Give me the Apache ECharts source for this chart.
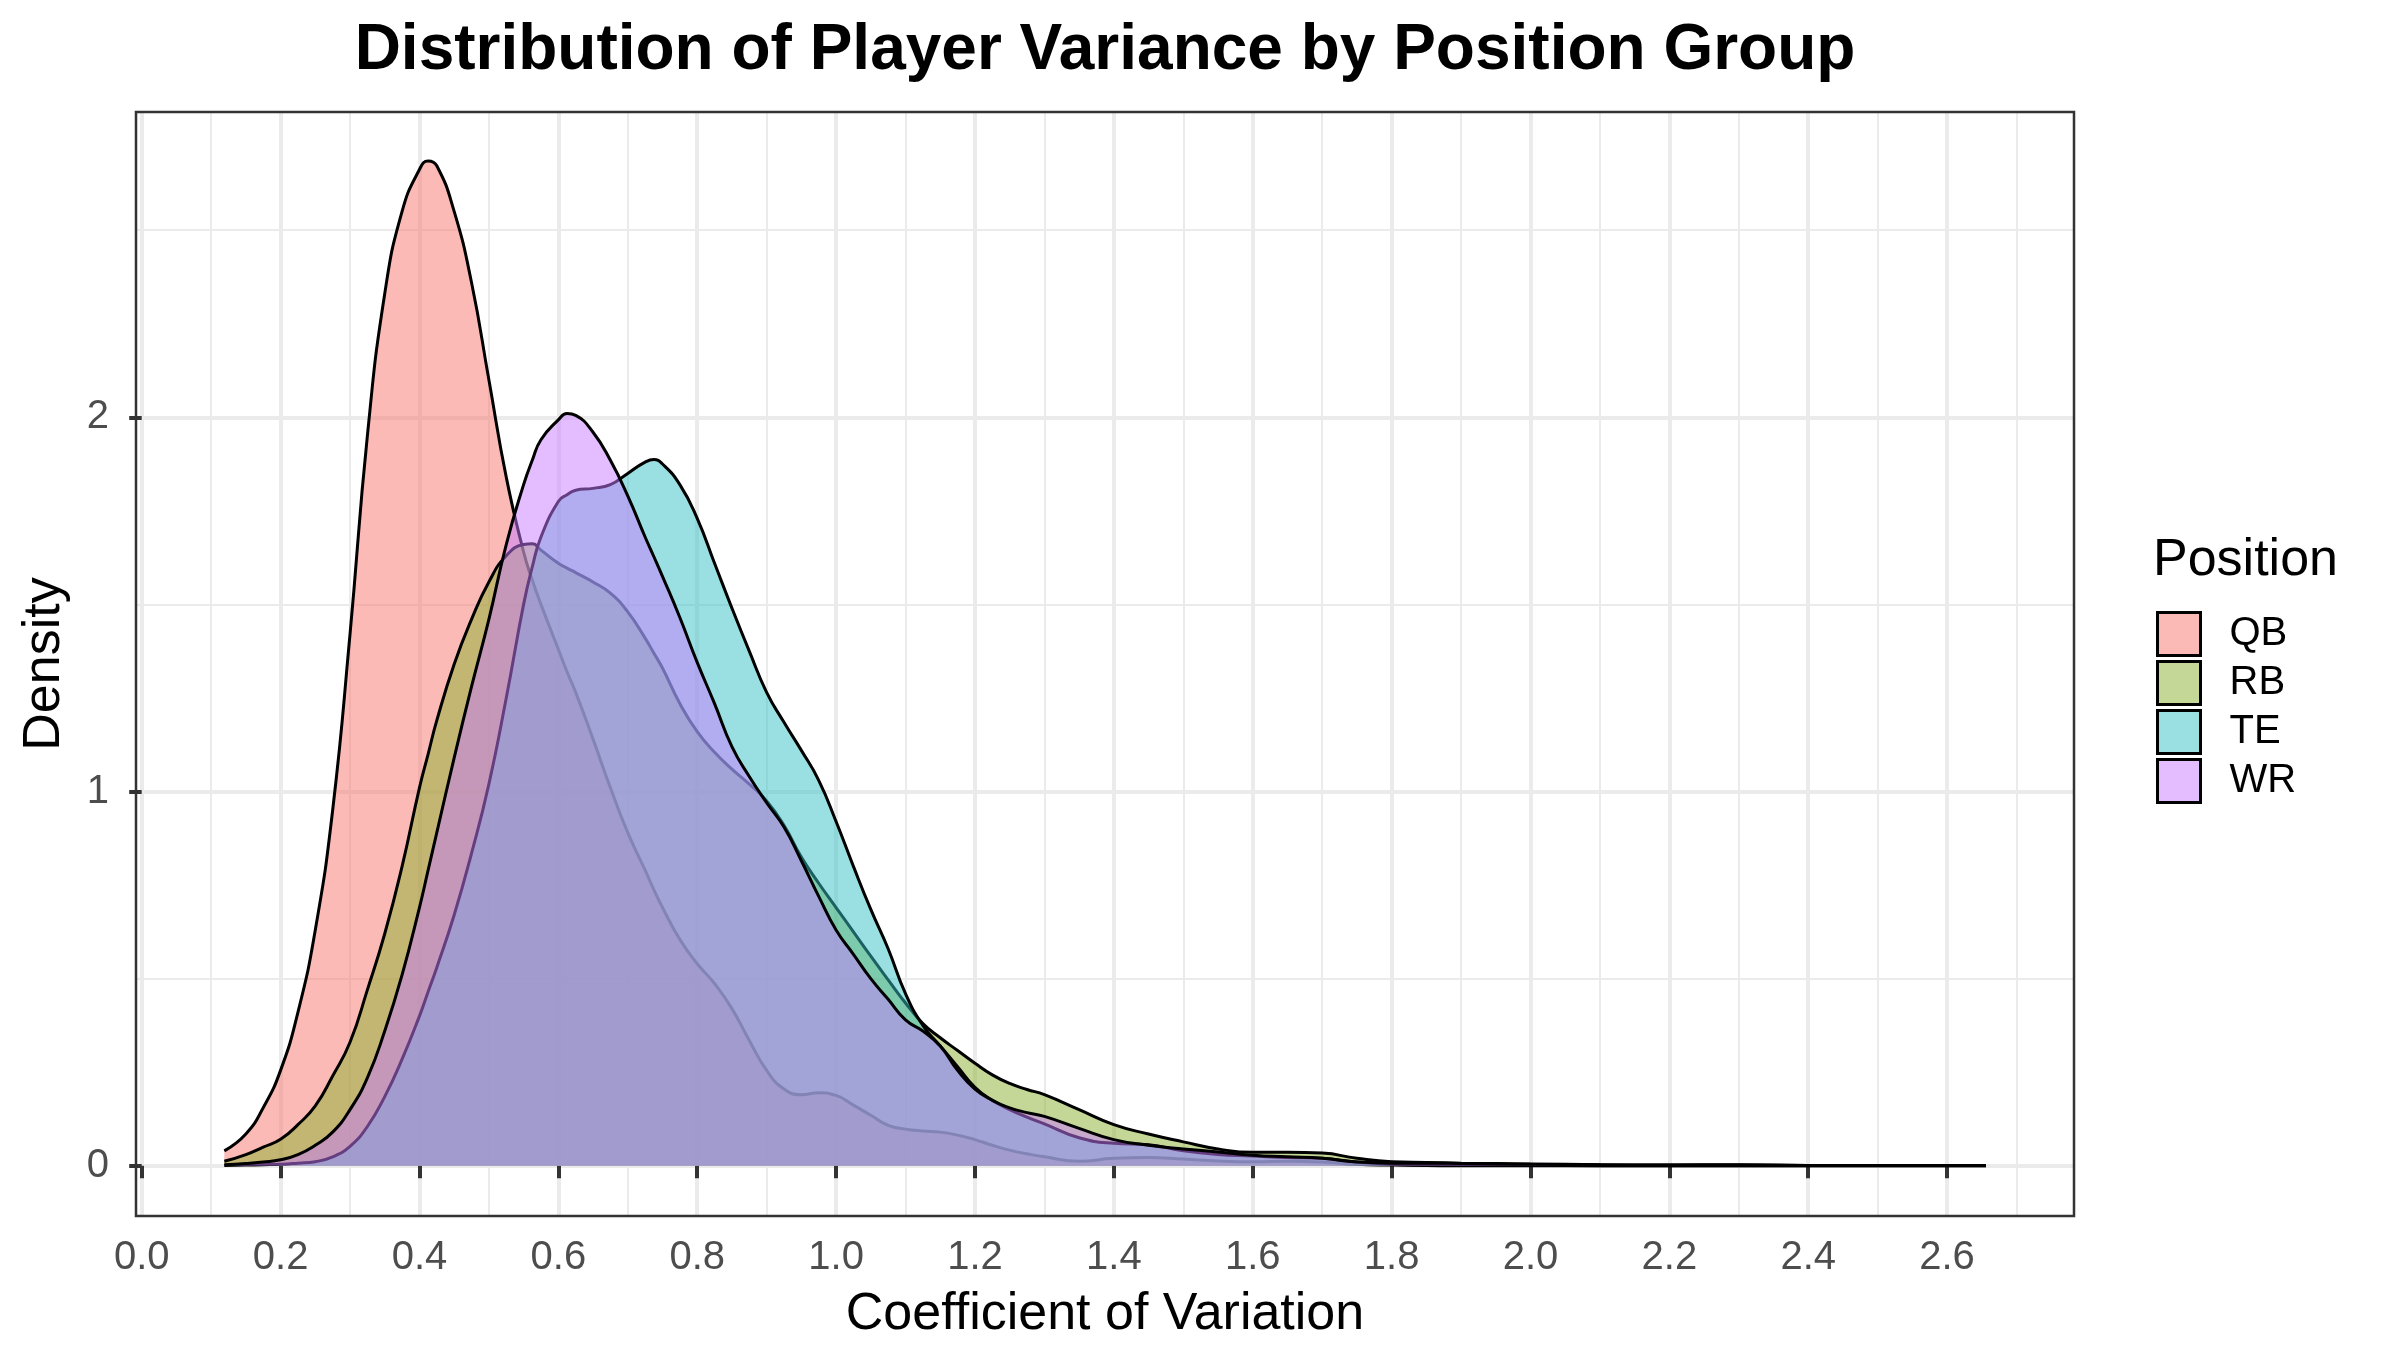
<!DOCTYPE html>
<html>
<head>
<meta charset="utf-8">
<script src="https://cdn.jsdelivr.net/npm/echarts@6.0.0/dist/echarts.min.js"></script>
<style>
html,body{margin:0;padding:0;background:#ffffff;}
#chart{width:2398px;height:1368px;}
</style>
</head>
<body>
<div id="chart"></div>
<script>
// ---- data ----
const positions = ['QB', 'RB', 'TE', 'WR'];
const fillColors = ['#F8766D', '#8BAF2D', '#35BFC3', '#C77CFF'];

// coefficient of variation sample positions
const cvGrid = [
  0.119, 0.15, 0.175, 0.2, 0.225, 0.25, 0.275, 0.3, 0.325, 0.35,
  0.375, 0.4, 0.4125, 0.425, 0.45, 0.475, 0.5, 0.525, 0.55, 0.5625,
  0.575, 0.6, 0.6125, 0.625, 0.65, 0.675, 0.7, 0.725, 0.7375, 0.75,
  0.775, 0.8, 0.825, 0.85, 0.875, 0.9, 0.925, 0.95, 0.975, 1.0,
  1.025, 1.05, 1.075, 1.1, 1.125, 1.15, 1.175, 1.2, 1.225, 1.25,
  1.275, 1.3, 1.35, 1.4, 1.45, 1.5, 1.55, 1.6, 1.65, 1.7,
  1.75, 1.8, 1.85, 1.9, 1.95, 2.0, 2.1, 2.2, 2.3, 2.4,
  2.5, 2.6, 2.656
];

const densQB = [
  0.040, 0.085, 0.155, 0.255, 0.41, 0.63, 0.95, 1.42, 1.95, 2.33,
  2.55, 2.662, 2.685, 2.672, 2.55, 2.36, 2.10, 1.84, 1.64, 1.565,
  1.50, 1.38, 1.32, 1.265, 1.14, 1.01, 0.89, 0.79, 0.738, 0.69,
  0.605, 0.54, 0.487, 0.42, 0.335, 0.255, 0.205, 0.19, 0.195, 0.188,
  0.162, 0.135, 0.108, 0.098, 0.093, 0.09, 0.082, 0.07, 0.055, 0.042,
  0.032, 0.024, 0.012, 0.02, 0.022, 0.018, 0.013, 0.011, 0.012, 0.01,
  0.004, 0.002, 0.001, 0, 0, 0, 0, 0, 0, 0,
  0, 0, 0
];

const densRB = [
  0.012, 0.03, 0.05, 0.071, 0.11, 0.16, 0.24, 0.33, 0.47, 0.62,
  0.80, 1.01, 1.10, 1.19, 1.34, 1.46, 1.56, 1.63, 1.66, 1.662,
  1.645, 1.61, 1.597, 1.585, 1.56, 1.53, 1.48, 1.41, 1.37, 1.33,
  1.235, 1.16, 1.105, 1.06, 1.02, 0.975, 0.91, 0.825, 0.755, 0.69,
  0.625, 0.56, 0.497, 0.435, 0.38, 0.342, 0.308, 0.274, 0.243, 0.22,
  0.204, 0.19, 0.15, 0.11, 0.085, 0.064, 0.045, 0.036, 0.036, 0.034,
  0.02, 0.011, 0.009, 0.007, 0.006, 0.005, 0.003, 0.002, 0.002, 0.001,
  0.001, 0.001, 0.001
];

const densTE = [
  0.001, 0.002, 0.003, 0.004, 0.007, 0.011, 0.024, 0.052, 0.105, 0.185,
  0.285, 0.40, 0.465, 0.53, 0.67, 0.835, 1.02, 1.25, 1.50, 1.60,
  1.68, 1.775, 1.793, 1.805, 1.81, 1.82, 1.85, 1.88, 1.887, 1.875,
  1.82, 1.73, 1.61, 1.49, 1.375, 1.265, 1.185, 1.11, 1.03, 0.92,
  0.80, 0.685, 0.58, 0.46, 0.375, 0.32, 0.265, 0.21, 0.175, 0.15,
  0.13, 0.112, 0.075, 0.06, 0.056, 0.04, 0.03, 0.026, 0.022, 0.02,
  0.01, 0.004, 0.002, 0.001, 0.001, 0.001, 0, 0, 0, 0,
  0, 0, 0
];

const densWR = [
  0.003, 0.006, 0.01, 0.016, 0.03, 0.055, 0.09, 0.15, 0.235, 0.36,
  0.51, 0.69, 0.79, 0.89, 1.09, 1.28, 1.46, 1.66, 1.82, 1.885,
  1.94, 1.993, 2.01, 2.005, 1.96, 1.885, 1.79, 1.68, 1.628, 1.575,
  1.465, 1.345, 1.235, 1.12, 1.04, 0.97, 0.905, 0.815, 0.72, 0.63,
  0.565, 0.50, 0.445, 0.39, 0.36, 0.32, 0.255, 0.205, 0.175, 0.155,
  0.142, 0.132, 0.10, 0.07, 0.055, 0.045, 0.037, 0.028, 0.024, 0.02,
  0.01, 0.007, 0.007, 0.006, 0.005, 0.004, 0.003, 0.002, 0.003, 0.001,
  0.001, 0.001, 0.001
];

const xTicks = [0, 0.2, 0.4, 0.6, 0.8, 1.0, 1.2, 1.4, 1.6, 1.8, 2.0, 2.2, 2.4, 2.6];
const yTicks = [0, 1, 2];

// ---- chart ----
const densities = [densQB, densRB, densTE, densWR];
const FONT = 'Liberation Sans';

function withAlpha(hex, a) {
  const n = parseInt(hex.slice(1), 16);
  return 'rgba(' + ((n >> 16) & 255) + ',' + ((n >> 8) & 255) + ',' + (n & 255) + ',' + a + ')';
}

const chart = echarts.init(document.getElementById('chart'), null, {renderer: 'canvas'});

const option = {
  animation: false,
  backgroundColor: '#ffffff',
  title: [
    {
      text: 'Distribution of Player Variance by Position Group',
      left: 1105, top: 19, textAlign: 'center', padding: 0,
      textStyle: {fontFamily: FONT, fontWeight: 'bold', fontSize: 64, color: '#000000'}
    },
    {
      text: 'Position',
      left: 2153, top: 535, padding: 0,
      textStyle: {fontFamily: FONT, fontWeight: 'normal', fontSize: 52, color: '#000000'}
    }
  ],
  legend: {
    orient: 'vertical',
    left: 2156, top: 611,
    padding: 0,
    itemWidth: 43, itemHeight: 43, itemGap: 3,
    selectedMode: false,
    data: positions.map((p, i) => ({
      name: p,
      icon: 'rect',
      itemStyle: {color: withAlpha(fillColors[i], 0.5), borderColor: '#000000', borderWidth: 3}
    })),
    textStyle: {fontFamily: FONT, fontSize: 40, color: '#000000', padding: [0, 0, 0, 24]}
  },
  grid: {
    left: 136, right: 324, top: 112, bottom: 152,
    show: true, z: 20,
    backgroundColor: 'transparent',
    borderColor: '#333333', borderWidth: 2.5
  },
  xAxis: {
    type: 'value',
    min: -0.0082, max: 2.7828,
    minInterval: 0.2, maxInterval: 0.2,
    name: 'Coefficient of Variation',
    nameLocation: 'middle', nameGap: 73,
    nameTextStyle: {fontFamily: FONT, fontSize: 52, color: '#000000'},
    axisLine: {show: false},
    axisTick: {show: true, length: 12.5, customValues: xTicks, lineStyle: {color: '#333333', width: 4}},
    axisLabel: {
      customValues: xTicks, margin: 22,
      fontFamily: FONT, fontSize: 40, color: '#4D4D4D',
      formatter: v => Number(v).toFixed(1)
    },
    splitLine: {show: true, lineStyle: {color: '#EBEBEB', width: 4}},
    minorTick: {show: false, splitNumber: 2},
    minorSplitLine: {show: true, lineStyle: {color: '#EBEBEB', width: 2}}
  },
  yAxis: {
    type: 'value',
    min: -0.1341, max: 2.8156,
    minInterval: 1, maxInterval: 1,
    name: 'Density',
    nameLocation: 'middle', nameGap: 65, nameRotate: 90,
    nameTextStyle: {fontFamily: FONT, fontSize: 52, color: '#000000'},
    axisLine: {show: false},
    axisTick: {show: true, length: 12.5, customValues: yTicks, lineStyle: {color: '#333333', width: 4}},
    axisLabel: {
      customValues: yTicks, margin: 27,
      fontFamily: FONT, fontSize: 40, color: '#4D4D4D',
      formatter: v => String(v)
    },
    splitLine: {show: true, lineStyle: {color: '#EBEBEB', width: 4}},
    minorTick: {show: false, splitNumber: 2},
    minorSplitLine: {show: true, lineStyle: {color: '#EBEBEB', width: 2}}
  },
  series: positions.map((p, i) => ({
    name: p,
    type: 'line',
    data: cvGrid.map((x, j) => [x, densities[i][j]]),
    smooth: 0.5,
    symbol: 'none',
    showSymbol: false,
    silent: true,
    z: 2 + i,
    itemStyle: {color: fillColors[i]},
    lineStyle: {color: '#000000', width: 3},
    areaStyle: {color: fillColors[i], opacity: 0.5}
  }))
};

chart.setOption(option);
</script>
</body>
</html>
